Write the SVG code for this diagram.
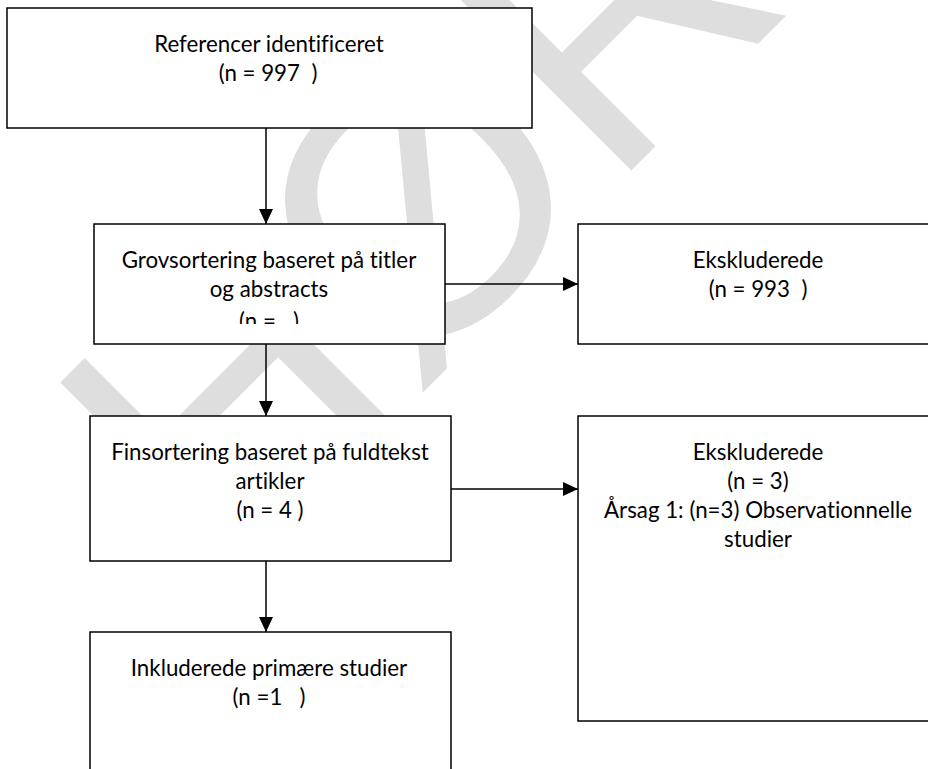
<svg xmlns="http://www.w3.org/2000/svg" width="928" height="769" viewBox="0 0 928 769" xml:space="preserve">
<style>
.bg{fill:#ffffff}
.wm{font-family:"Liberation Sans",Arial,sans-serif;font-size:369px;fill:#dedede}
.box{fill:#ffffff;stroke:#000000;stroke-width:1.5}
.t{font-family:Lato,"Liberation Sans",sans-serif;font-size:22.3px;fill:#000000;text-anchor:middle;white-space:pre;font-variant-ligatures:none}
.c{stroke:#000000;stroke-width:1.5;fill:none;marker-end:url(#ah)}
</style>
<defs>
<marker id="ah" markerUnits="userSpaceOnUse" markerWidth="16" markerHeight="14" refX="15" refY="7" orient="auto">
<path d="M0,0 L15,7 L0,14 Z" fill="#000000"/>
</marker>
<clipPath id="clip2"><rect x="94" y="224" width="351" height="100"/></clipPath>
</defs>
<rect class="bg" x="0" y="0" width="928" height="769"/>
<text class="wm" x="-258" y="567" transform="rotate(-45)">HØRING</text>
<g id="connectors">
<line class="c" x1="266" y1="128" x2="266" y2="224"/>
<line class="c" x1="445" y1="284" x2="578" y2="284"/>
<line class="c" x1="266" y1="344" x2="266" y2="416"/>
<line class="c" x1="451" y1="489" x2="578" y2="489"/>
<line class="c" x1="266" y1="561" x2="266" y2="632"/>
</g>
<g id="n1">
<rect class="box" x="7" y="8" width="525" height="120"/>
<text class="t" x="269" y="52">Referencer identificeret</text>
<text class="t" x="268" y="81">(n = 997  )</text>
</g>
<g id="n2">
<rect class="box" x="94" y="224" width="351" height="120"/>
<text class="t" x="269" y="268">Grovsortering baseret på titler</text>
<text class="t" x="269" y="297">og abstracts</text>
<text class="t" x="269" y="329" clip-path="url(#clip2)">(n =   )</text>
</g>
<g id="n3">
<rect class="box" x="578" y="224" width="360" height="120"/>
<text class="t" x="758" y="268">Ekskluderede</text>
<text class="t" x="758" y="297">(n = 993  )</text>
</g>
<g id="n4">
<rect class="box" x="90" y="416" width="361" height="145"/>
<text class="t" x="270" y="460">Finsortering baseret på fuldtekst</text>
<text class="t" x="270" y="489">artikler</text>
<text class="t" x="270" y="518">(n = 4 )</text>
</g>
<g id="n5">
<rect class="box" x="578" y="416" width="360" height="305"/>
<text class="t" x="758" y="460">Ekskluderede</text>
<text class="t" x="758" y="489">(n = 3)</text>
<text class="t" x="758" y="518">Årsag 1: (n=3) Observationnelle</text>
<text class="t" x="758" y="547">studier</text>
</g>
<g id="n6">
<rect class="box" x="90" y="632" width="361" height="150"/>
<text class="t" x="269" y="676">Inkluderede primære studier</text>
<text class="t" x="269" y="705">(n =1   )</text>
</g>
</svg>
